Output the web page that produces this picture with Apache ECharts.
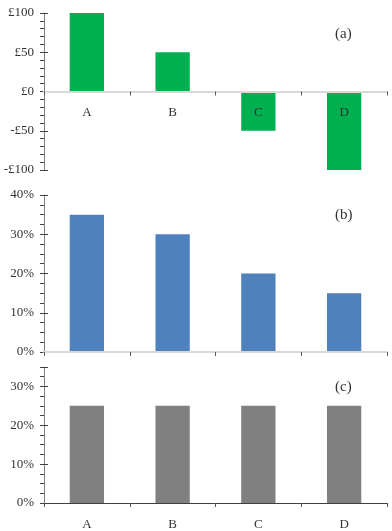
<!DOCTYPE html>
<html><head><meta charset="utf-8">
<script src="https://cdn.jsdelivr.net/npm/echarts@6/dist/echarts.min.js"></script>
<style>html,body{margin:0;padding:0;background:#fff}#c{width:392px;height:531px}</style>
</head><body><div id="c"></div>
<script>
const categories = ['A', 'B', 'C', 'D'];
const valuesA = [100, 50, -50, -100];
const valuesB = [35, 30, 20, 15];
const valuesC = [25, 25, 25, 25];
const panelLabels = ['(a)', '(b)', '(c)'];

const FONT = 'Liberation Serif';
const TXT = '#333';
const chart = echarts.init(document.getElementById('c'));

const grids = [
  {left: 44, right: 5, top: 13, height: 157},
  {left: 44, right: 5, top: 195, height: 157},
  {left: 44, right: 5, top: 367, height: 136}
];
const yDefs = [
  {min: -100, max: 100, minor: 10, major: 50, fmt: v => v < 0 ? '-£' + Math.abs(v) : '£' + v},
  {min: 0, max: 40, minor: 2.5, major: 10, fmt: v => v + '%'},
  {min: 0, max: 35, minor: 2.5, major: 10, fmt: v => v + '%'}
];
const xLine = ['#d9d9d9', '#d9d9d9', '#404040'];

const xAxis = [], yAxis = [];
grids.forEach((g, i) => {
  const d = yDefs[i];
  // place the category axis on the zero line of the value axis
  const zeroOffset = -((0 - d.min) / (d.max - d.min)) * g.height;
  xAxis.push({
    type: 'category', gridIndex: i, data: categories, z: 5,
    position: 'bottom', offset: zeroOffset,
    axisLine: {onZero: false, lineStyle: {color: xLine[i], width: i < 2 ? 2 : 1.2}},
    axisTick: {show: true, length: 4, lineStyle: {color: '#595959'}},
    axisLabel: {show: i !== 1, margin: 15, fontFamily: FONT, fontSize: 13, color: TXT}
  });
  yAxis.push({
    type: 'value', gridIndex: i, position: 'left', min: d.min, max: d.max, interval: d.minor,
    splitLine: {show: false},
    axisLine: {show: true, onZero: false, lineStyle: {color: '#7f7f7f'}},
    axisTick: {show: true, length: 4, lineStyle: {color: '#404040'}},
    axisLabel: {margin: 10, fontFamily: FONT, fontSize: 13, color: TXT,
      formatter: v => (Math.abs(v % d.major) < 1e-9 ? d.fmt(v) : '')}
  });
});
// overlay axes giving the major ticks that cross to the inside
grids.forEach((g, i) => {
  const d = yDefs[i];
  yAxis.push({
    type: 'value', gridIndex: i, position: 'left', offset: 0, min: d.min, max: d.max, interval: d.major,
    splitLine: {show: false}, axisLine: {show: false, onZero: false}, axisLabel: {show: false},
    axisTick: {show: true, inside: true, length: 4, lineStyle: {color: '#404040'}}
  });
});

const colors = ['#00b050', '#4f81bd', '#808080'];
const series = [valuesA, valuesB, valuesC].map((vals, i) => ({
  type: 'bar', xAxisIndex: i, yAxisIndex: i, data: vals,
  barCategoryGap: '60%', itemStyle: {color: colors[i]}, silent: true
}));

const graphic = panelLabels.map((t, i) => ({
  type: 'text', left: 335, top: [27, 208, 380][i],
  style: {text: t, font: '15px "' + FONT + '"', fill: TXT}
}));

chart.setOption({
  animation: false,
  grid: grids,
  xAxis: xAxis,
  yAxis: yAxis,
  series: series,
  graphic: graphic
});
</script></body></html>
